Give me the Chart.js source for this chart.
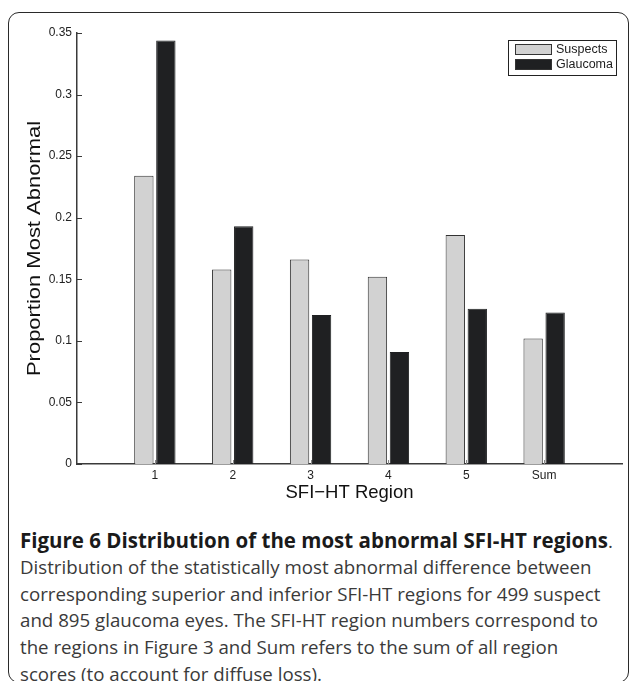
<!DOCTYPE html>
<html>
<head>
<meta charset="utf-8">
<script src="https://cdn.jsdelivr.net/npm/chart.js@4"></script>
<style>
  html, body { margin: 0; padding: 0; background: #fff; }
  body { width: 629px; height: 681px; position: relative; overflow: hidden; }
  #frame {
    position: absolute; left: 8px; top: 12px; width: 621px; height: 671px;
    border: 1.6px solid #2a2a2a; border-radius: 11px; box-sizing: border-box;
  }
  #chart { position: absolute; left: 0; top: 0; }
  #caption {
    position: absolute; left: 20px; top: 527px;
    font-family: "Open Sans", "Noto Sans", sans-serif; font-size: 18.7px;
    color: #3a3a3a; white-space: nowrap;
  }
  #caption div { height: 26.8px; line-height: 26.8px; }
  #caption b { color: #1a1a1a; font-size: 20.5px; }
</style>
</head>
<body>
<div id="frame"></div>
<canvas id="chart" width="629" height="520"></canvas>
<div id="caption">
  <div><b>Figure 6 Distribution of the most abnormal SFI-HT regions</b>.</div>
  <div>Distribution of the statistically most abnormal difference between</div>
  <div>corresponding superior and inferior SFI-HT regions for 499 suspect</div>
  <div>and 895 glaucoma eyes. The SFI-HT region numbers correspond to</div>
  <div>the regions in Figure 3 and Sum refers to the sum of all region</div>
  <div>scores (to account for diffuse loss).</div>
</div>
<script>
// Chart data
const regions = ['1', '2', '3', '4', '5', 'Sum'];
const suspects = [0.234, 0.158, 0.166, 0.152, 0.186, 0.102];
const glaucoma = [0.344, 0.193, 0.121, 0.091, 0.126, 0.123];
const yMax = 0.35;
const yStep = 0.05;
const yTitle = 'Proportion Most Abnormal';

const axisColor = '#3a3a3a';
const textColor = '#222';
const fontFamily = '"Liberation Sans", Arial, sans-serif';

// MATLAB style: ticks point into the plot, legend top right,
// and the y label looks stretched along its length in the figure
const matlabBits = {
  id: 'matlabBits',
  afterDatasetsDraw(chart) {
    const { ctx, chartArea, scales } = chart;
    ctx.save();
    ctx.strokeStyle = axisColor;
    ctx.lineWidth = 1;
    scales.y.ticks.forEach(t => {
      const y = Math.round(scales.y.getPixelForValue(t.value)) + 0.5;
      ctx.beginPath();
      ctx.moveTo(chartArea.left, y);
      ctx.lineTo(chartArea.left + 5, y);
      ctx.stroke();
    });
    ctx.strokeStyle = '#888';
    scales.x.ticks.forEach(t => {
      if (!regions[t.value - 1]) return;
      const x = Math.round(scales.x.getPixelForValue(t.value)) + 0.5;
      ctx.beginPath();
      ctx.moveTo(x, chartArea.bottom);
      ctx.lineTo(x, chartArea.bottom - 4);
      ctx.stroke();
    });

    // y axis title
    ctx.save();
    ctx.translate(35, (chartArea.top + chartArea.bottom) / 2);
    ctx.rotate(-Math.PI / 2);
    ctx.scale(1.22, 1);
    ctx.font = '18px ' + fontFamily;
    ctx.fillStyle = '#111';
    ctx.textAlign = 'center';
    ctx.textBaseline = 'middle';
    ctx.fillText(yTitle, 0, 0);
    ctx.restore();

    // legend box
    const w = 108, h = 35;
    const bx = chartArea.right - 6 - w, by = chartArea.top + 7;
    ctx.fillStyle = '#fff';
    ctx.fillRect(bx, by, w, h);
    ctx.strokeStyle = '#222';
    ctx.strokeRect(bx + 0.5, by + 0.5, w, h);
    ctx.font = '12.5px ' + fontFamily;
    ctx.textBaseline = 'middle';
    chart.data.datasets.forEach((ds, i) => {
      const sy = by + 4 + i * 15;
      ctx.fillStyle = ds.backgroundColor;
      ctx.fillRect(bx + 7, sy, 37, 11);
      ctx.strokeStyle = '#333';
      ctx.strokeRect(bx + 7.5, sy + 0.5, 36, 10);
      ctx.fillStyle = textColor;
      ctx.fillText(ds.label, bx + 48, sy + 6);
    });
    ctx.restore();
  }
};

new Chart(document.getElementById('chart'), {
  type: 'bar',
  data: {
    datasets: [
      {
        label: 'Suspects',
        data: suspects.map((v, i) => ({ x: i + 1, y: v })),
        backgroundColor: '#d2d2d2',
        borderColor: '#333',
        borderWidth: 1,
      },
      {
        label: 'Glaucoma',
        data: glaucoma.map((v, i) => ({ x: i + 1, y: v })),
        backgroundColor: '#1f2022',
        borderColor: '#1f2022',
        borderWidth: 1,
      }
    ]
  },
  options: {
    responsive: false,
    devicePixelRatio: 1,
    animation: false,
    categoryPercentage: 0.565,
    barPercentage: 0.88,
    layout: { padding: { left: 0, right: 7, top: 33, bottom: 0 } },
    plugins: {
      legend: { display: false },
      tooltip: { enabled: false },
    },
    scales: {
      x: {
        type: 'linear',
        min: 0,
        max: regions.length + 1,
        offset: false,
        grid: { display: false, drawTicks: false, offset: false },
        border: { display: true, color: axisColor, width: 1.5 },
        ticks: {
          stepSize: 1,
          padding: 4,
          color: textColor,
          font: { family: fontFamily, size: 12 },
          callback: v => regions[v - 1] || '',
        },
        title: {
          display: true,
          text: 'SFI\u2212HT Region',
          color: '#111',
          font: { family: fontFamily, size: 18.5 },
          padding: { top: 0, bottom: 16 },
        },
        afterFit: s => { s.height = 56; },
      },
      y: {
        min: 0,
        max: yMax,
        grid: { display: false, drawTicks: false },
        border: { display: true, color: axisColor, width: 1.5 },
        ticks: {
          stepSize: yStep,
          padding: 5,
          color: textColor,
          font: { family: fontFamily, size: 12 },
          callback: v => String(+v.toFixed(2)),
        },
        afterFit: s => { s.width = 77; },
      }
    }
  },
  plugins: [matlabBits]
});
</script>
</body>
</html>
